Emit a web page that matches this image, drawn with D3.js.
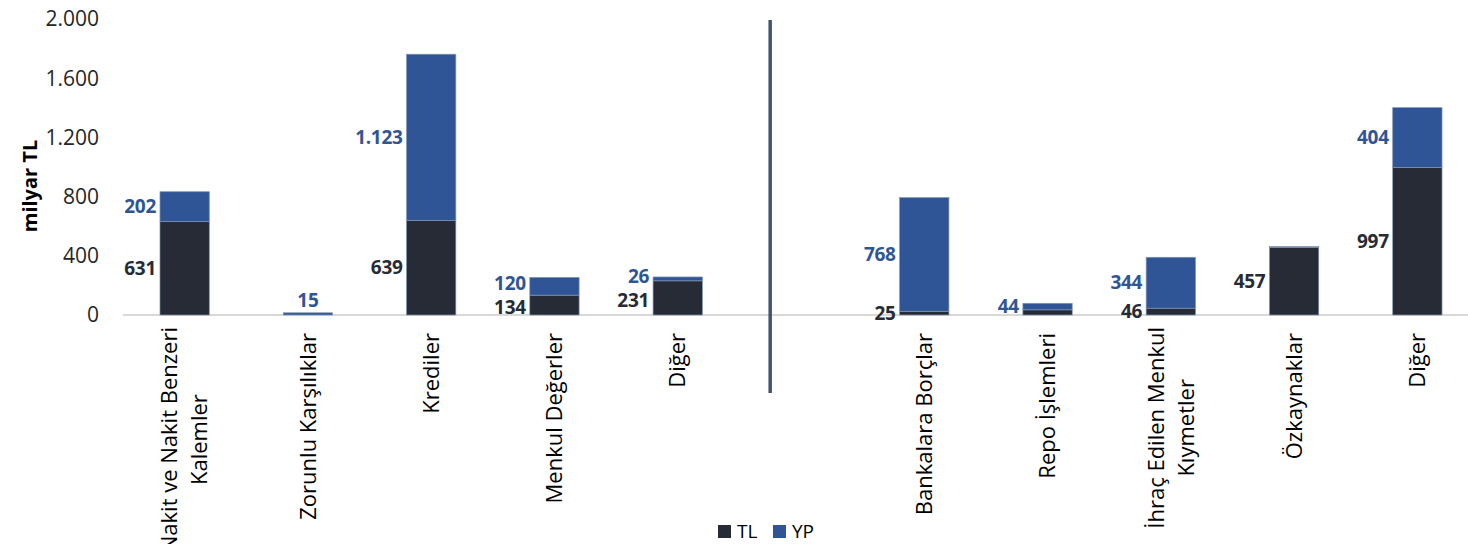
<!DOCTYPE html>
<html>
<head>
<meta charset="utf-8">
<script src="https://cdn.jsdelivr.net/npm/d3@7/dist/d3.min.js"></script>
<style>
  body { margin: 0; background: #fff; }
  svg { display: block; font-family: "Open Sans", sans-serif; }
</style>
</head>
<body>
<svg id="chart" width="1468" height="544"></svg>
<script>
// categories (| splits a label in two lines, "" is the empty slot before the divider)
const categories = [
  "Nakit ve Nakit Benzeri|Kalemler", "Zorunlu Karşılıklar", "Krediler", "Menkul Değerler", "Diğer",
  "",
  "Bankalara Borçlar", "Repo İşlemleri", "İhraç Edilen Menkul|Kıymetler", "Özkaynaklar", "Diğer"
];
const tlValues = [631, 0, 639, 134, 231, null, 25, 35, 46, 457, 997];
const ypValues = [202, 15, 1123, 120, 26, null, 768, 44, 344, 5, 404];
// which value labels are printed on the picture
const tlShown = [true, false, true, true, true, false, true, false, true, true, true];
const ypShown = [true, true, true, true, true, false, true, true, true, false, true];
const yTicks = [0, 400, 800, 1200, 1600, 2000];
const seriesNames = ["TL", "YP"];

const colors = { TL: "#262b35", YP: "#2f5597" };

const trFormat = d3.formatLocale({ decimal: ",", thousands: ".", grouping: [3], currency: ["", ""] }).format(",d");

const svg = d3.select("#chart");

const x = d3.scaleBand()
  .domain(d3.range(categories.length))
  .range([123, 1479])
  .paddingInner(0.6)
  .paddingOuter(0.3);

const y = d3.scaleLinear()
  .domain([0, 2000])
  .range([315, 19]);

// y axis labels
svg.append("g")
  .selectAll("text")
  .data(yTicks)
  .enter()
  .append("text")
  .attr("x", 99)
  .attr("y", d => y(d))
  .attr("dy", "0.35em")
  .attr("text-anchor", "end")
  .attr("font-size", 21)
  .attr("fill", "#262626")
  .text(d => trFormat(d));

// y title
svg.append("text")
  .attr("transform", "translate(30,186) rotate(-90)")
  .attr("text-anchor", "middle")
  .attr("dy", "0.35em")
  .attr("font-size", 20)
  .attr("font-weight", "bold")
  .attr("fill", "#000")
  .text("milyar TL");

// baseline
svg.append("line")
  .attr("x1", x.range()[0])
  .attr("x2", x.range()[1])
  .attr("y1", y(0))
  .attr("y2", y(0))
  .attr("stroke", "#d9d9d9")
  .attr("stroke-width", 2);

// stacked bars
const rows = categories.map((c, i) => ({ i: i, TL: tlValues[i], YP: ypValues[i] }))
  .filter(d => d.TL !== null);

const stack = d3.stack().keys(seriesNames)(rows);

svg.append("g")
  .selectAll("g")
  .data(stack)
  .enter()
  .append("g")
  .attr("fill", d => colors[d.key])
  .selectAll("rect")
  .data(d => d)
  .enter()
  .append("rect")
  .filter(d => d[1] > d[0])
  .attr("x", d => x(d.data.i))
  .attr("width", x.bandwidth())
  .attr("y", d => y(d[1]))
  .attr("height", d => y(d[0]) - y(d[1]))
  .attr("stroke", "#8193b0")
  .attr("stroke-width", 0.7);

// label y positions: middle of each segment, pushed apart when two labels get too close
const minGap = 24;
function labelY(d, key) {
  const tl = stack[0][rows.indexOf(d.data)];
  const yp = stack[1][rows.indexOf(d.data)];
  let a = (y(tl[0]) + y(tl[1])) / 2;
  let b = (y(yp[0]) + y(yp[1])) / 2;
  if (tlShown[d.data.i] && ypShown[d.data.i] && a - b < minGap) {
    const m = (a + b) / 2;
    a = m + minGap / 2;
    b = m - minGap / 2;
  }
  return key == "TL" ? a : b;
}

// value labels, left of the bar
stack.forEach(function(layer) {
  const shown = layer.key == "TL" ? tlShown : ypShown;
  svg.append("g")
    .selectAll("text")
    .data(layer.filter(d => shown[d.data.i]))
    .enter()
    .append("text")
    .attr("font-size", 19)
    .attr("font-weight", "bold")
    .attr("letter-spacing", -0.3)
    .attr("fill", colors[layer.key])
    .attr("dy", "0.35em")
    .each(function(d) {
      const el = d3.select(this);
      if (d.data.TL === 0) {
        // nothing under it: label sits above the bar
        el.attr("x", x(d.data.i) + x.bandwidth() / 2)
          .attr("y", y(d[1]) - 12)
          .attr("text-anchor", "middle");
      } else {
        el.attr("x", x(d.data.i) - 4)
          .attr("y", labelY(d, layer.key))
          .attr("text-anchor", "end");
      }
    })
    .text(d => trFormat(d.data[layer.key]));
});

// category labels, rotated
const catG = svg.append("g");
categories.forEach(function(c, i) {
  if (c === "") return;
  const lines = c.split("|");
  const cx = x(i) + x.bandwidth() / 2;
  const g = catG.append("g");
  const texts = g.selectAll("text")
    .data(lines)
    .enter()
    .append("text")
    .attr("font-size", 22)
    .attr("fill", "#000")
    .attr("text-anchor", "middle")
    .attr("dy", "0.35em")
    .text(d => d);
  let maxLen = 0;
  texts.each(function() { maxLen = Math.max(maxLen, this.getComputedTextLength()); });
  const lineH = 30;
  // two-line labels start a little higher so their long line fits
  const top = 333 - (lines.length - 1) * 6;
  texts.attr("transform", function(d, k) {
    const lx = cx + (k - (lines.length - 1) / 2) * lineH;
    return "translate(" + lx + "," + (top + maxLen / 2) + ") rotate(-90)";
  });
});

// divider between assets and liabilities
const divX = x(5) - x.step() * 0.05;
svg.append("line")
  .attr("x1", divX)
  .attr("x2", divX)
  .attr("y1", 20)
  .attr("y2", 393)
  .attr("stroke", "#44546a")
  .attr("stroke-width", 3.5);

// legend
const legend = svg.append("g")
  .selectAll("g")
  .data(seriesNames)
  .enter()
  .append("g")
  .attr("transform", (d, i) => "translate(" + (718 + i * 55) + ",525)");

legend.append("rect")
  .attr("width", 13)
  .attr("height", 13)
  .attr("fill", d => colors[d]);

legend.append("text")
  .attr("x", 19)
  .attr("y", 6.5)
  .attr("dy", "0.35em")
  .attr("font-size", 19)
  .attr("fill", "#000")
  .text(d => d);
</script>
</body>
</html>
